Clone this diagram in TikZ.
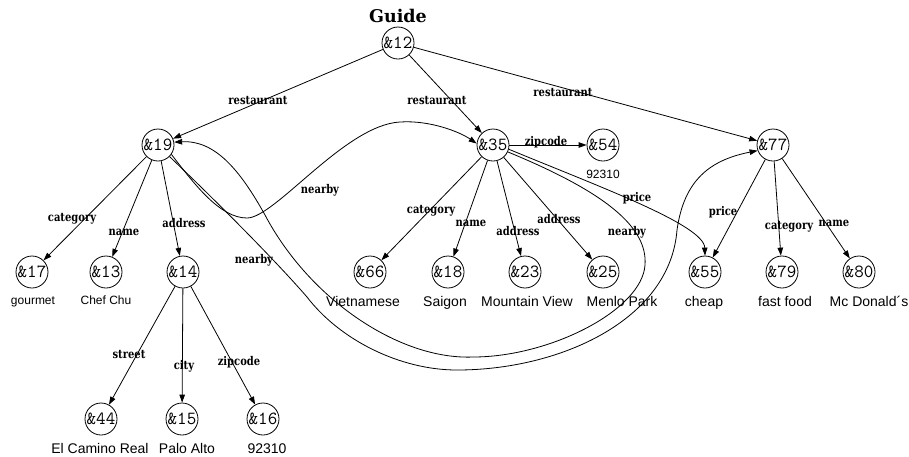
\documentclass[tikz,border=0pt]{standalone}
\usepackage{fontspec}
\setmainfont{DejaVu Serif}
\newfontfamily\sansf{Liberation Sans}
\newfontfamily\seriff{DejaVu Serif}
\newfontfamily\labf[FakeStretch=0.83]{DejaVu Serif Bold}
\usetikzlibrary{arrows.meta}

\begin{document}
\begin{tikzpicture}[x=1pt,y=-1pt,
  obj/.style={circle,draw,line width=0.8pt,minimum size=32pt,inner sep=0pt,
              font=\ttfamily\fontsize{18.5}{18.5}\selectfont},
  val/.style={font=\sansf\fontsize{14}{14}\selectfont,inner sep=0pt,anchor=base},
  sval/.style={font=\sansf\fontsize{12}{12}\selectfont,inner sep=0pt,anchor=base},
  lab/.style={font=\labf\fontsize{12}{12}\selectfont,inner sep=0pt},
  rel/.style={line width=0.8pt,-{Triangle[length=8pt,width=5.5pt]}},
]
\useasboundingbox (0,0) rectangle (909,456);

% title
\node[font=\seriff\bfseries\fontsize{17.5}{17.5}\selectfont,inner sep=0pt] (title) at (398,16) {Guide};

% objects
\node[obj] (n12) at (398,43) {\&12};
\node[obj] (n19) at (158,145) {\&19};
\node[obj] (n35) at (493,145) {\&35};
\node[obj] (n54) at (603,145) {\&54};
\node[obj] (n77) at (773,145) {\&77};
\node[obj] (n17) at (32,272) {\&17};
\node[obj] (n13) at (106,272) {\&13};
\node[obj] (n14) at (183,272) {\&14};
\node[obj] (n66) at (370,272) {\&66};
\node[obj] (n18) at (448,272) {\&18};
\node[obj] (n23) at (525,272) {\&23};
\node[obj] (n25) at (603,272) {\&25};
\node[obj] (n55) at (705,272) {\&55};
\node[obj] (n79) at (782,272) {\&79};
\node[obj] (n80) at (859,272) {\&80};
\node[obj] (n44) at (101,419) {\&44};
\node[obj] (n15) at (182,419) {\&15};
\node[obj] (n16) at (263,419) {\&16};

% atomic values
\node[sval] (v54) at (603,178) {92310};
\node[sval] (v17) at (33,304) {gourmet};
\node[sval] (v13) at (106,304) {Chef Chu};
\node[val] (v66) at (363,306) {Vietnamese};
\node[val] (v18) at (445,306) {Saigon};
\node[val] (v23) at (527,306) {Mountain View};
\node[val] (v25) at (622,306) {Menlo Park};
\node[val] (v55) at (704,306) {cheap};
\node[val] (v79) at (785,306) {fast food};
\node[val] (v80) at (869,306) {Mc Donald´s};
\node[val] (v44) at (100,453) {El Camino Real};
\node[val] (v15) at (187,453) {Palo Alto};
\node[val] (v16) at (267,453) {92310};

% straight relations
\draw[rel] (n12) -- (n19);
\draw[rel] (n12) -- (n35);
\draw[rel] (n12) -- (n77);
\draw[rel] (n19) -- (n17);
\draw[rel] (n19) -- (n13);
\draw[rel] (n19) -- (n14);
\draw[rel] (n14) -- (n44);
\draw[rel] (n14) -- (n15);
\draw[rel] (n14) -- (n16);
\draw[rel] (n35) -- (n54);
\draw[rel] (n35) -- (n66);
\draw[rel] (n35) -- (n18);
\draw[rel] (n35) -- (n23);
\draw[rel] (n35) -- (n25);
\draw[rel] (n77) -- (n55);
\draw[rel] (n77) -- (n79);
\draw[rel] (n77) -- (n80);

% curved relations
\draw[rel] (n19.-35) .. controls (195,185) and (220,218) .. (247,218)
  .. controls (275,218) and (345,125) .. (400,122)
  .. controls (430,120) and (460,132) .. (n35.175);
\draw[rel] (n35.-25) .. controls (600,190) and (648,225) .. (645,265)
  .. controls (642,310) and (550,357) .. (473,357)
  .. controls (400,360) and (310,300) .. (265,215)
  .. controls (240,170) and (215,140) .. (n19.10);
\draw[rel] (n19.-45) .. controls (215,200) and (275,260) .. (307,297)
  .. controls (340,340) and (400,370) .. (457,370)
  .. controls (560,370) and (670,320) .. (677,230)
  .. controls (684,180) and (710,160) .. (n77.200);
\draw[rel] (n35.-15) .. controls (600,187) and (704,225) .. (n55.north);

% relation labels
\node[lab] (l1) at (258,100) {restaurant};
\node[lab] (l2) at (437,100) {restaurant};
\node[lab] (l3) at (563,92) {restaurant};
\node[lab] (l4) at (546,142) {zipcode};
\node[lab] (l5) at (637,198) {price};
\node[lab] (l6) at (723,212) {price};
\node[lab] (l7) at (789,227) {category};
\node[lab] (l8) at (834,223) {name};
\node[lab] (l9) at (431,211) {category};
\node[lab] (l10) at (471,223) {name};
\node[lab] (l11) at (518,231) {address};
\node[lab] (l12) at (559,219) {address};
\node[lab] (l13) at (627,232) {nearby};
\node[lab] (l14) at (320,190) {nearby};
\node[lab] (l15) at (254,260) {nearby};
\node[lab] (l16) at (72,219) {category};
\node[lab] (l17) at (124,232) {name};
\node[lab] (l18) at (184,223) {address};
\node[lab] (l19) at (129,354) {street};
\node[lab] (l20) at (184,366) {city};
\node[lab] (l21) at (239,362) {zipcode};
\end{tikzpicture}
\end{document}
